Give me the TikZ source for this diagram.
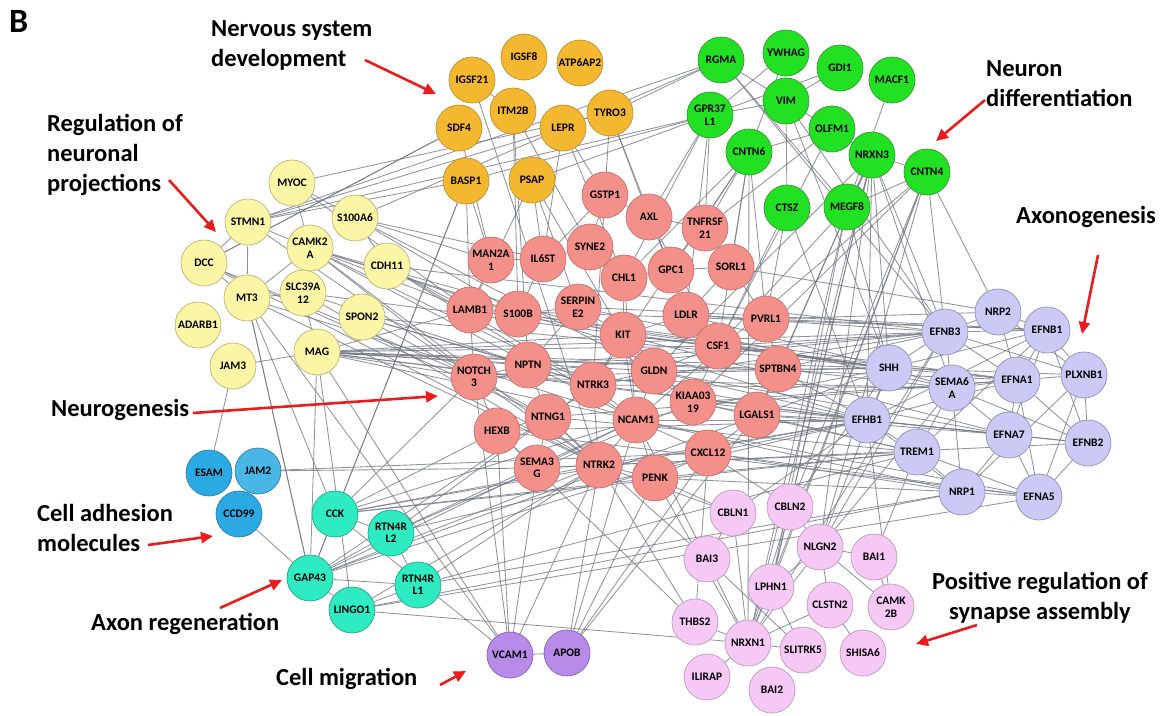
\documentclass[tikz,border=0pt]{standalone}
\usepackage{fontspec}
\setmainfont{Carlito}
\usetikzlibrary{arrows.meta,backgrounds}
\definecolor{ornfill}{HTML}{F4B830}\definecolor{ornline}{HTML}{BF902A}
\definecolor{grnfill}{HTML}{22E022}\definecolor{grnline}{HTML}{339933}
\definecolor{yelfill}{HTML}{FBF5A6}\definecolor{yelline}{HTML}{BDB577}
\definecolor{salfill}{HTML}{F3908A}\definecolor{salline}{HTML}{C27370}
\definecolor{lavfill}{HTML}{CACAF5}\definecolor{lavline}{HTML}{8F8FBD}
\definecolor{blufill}{HTML}{2AA9E2}\definecolor{bluline}{HTML}{2780B0}
\definecolor{tealfill}{HTML}{2EEBC2}\definecolor{tealline}{HTML}{28A488}
\definecolor{viofill}{HTML}{B98BE8}\definecolor{violine}{HTML}{855EB2}
\definecolor{pnkfill}{HTML}{F6C8F6}\definecolor{pnkline}{HTML}{BE98BE}
\definecolor{edgegrey}{HTML}{737882}
\definecolor{arrred}{HTML}{EC1C1C}
\tikzset{
  gene/.style={circle,minimum size=46pt,inner sep=0pt,line width=0.7pt,align=center,
    text=black,font=\fontsize{11.5}{12.5}\selectfont\bfseries},
  orn/.style={gene,fill=ornfill,draw=ornline},
  grn/.style={gene,fill=grnfill,draw=grnline},
  yel/.style={gene,fill=yelfill,draw=yelline},
  sal/.style={gene,fill=salfill,draw=salline},
  lav/.style={gene,fill=lavfill,draw=lavline},
  blu/.style={gene,fill=blufill,draw=bluline},
  teal/.style={gene,fill=tealfill,draw=tealline},
  vio/.style={gene,fill=viofill,draw=violine},
  pnk/.style={gene,fill=pnkfill,draw=pnkline},
  edge/.style={draw=edgegrey,line width=0.85pt,opacity=0.8},
  lbl/.style={anchor=west,align=left,inner sep=0pt,font=\fontsize{24.5}{30}\selectfont\bfseries},
  redarrow/.style={draw=arrred,line width=2.6pt,-{Triangle[length=12pt,width=11pt]}}
}
\begin{document}
\begin{tikzpicture}[x=1pt,y=-1pt,line join=round]
\useasboundingbox (0,0) rectangle (1166,715);
% nervous system development
\node[orn] (IGSF21) at (472,80) {IGSF21};
\node[orn] (IGSF8) at (524,57) {IGSF8};
\node[orn] (ATP6AP2) at (580,63) {ATP6AP2};
\node[orn] (ITM2B) at (513,111) {ITM2B};
\node[orn] (SDF4) at (459,128) {SDF4};
\node[orn] (LEPR) at (563,128) {LEPR};
\node[orn] (TYRO3) at (610,113) {TYRO3};
\node[orn] (BASP1) at (466,181) {BASP1};
\node[orn] (PSAP) at (532,180) {PSAP};
% neuron differentiation
\node[grn] (RGMA) at (721,60) {RGMA};
\node[grn] (YWHAG) at (786,53) {YWHAG};
\node[grn] (GDI1) at (840,68) {GDI1};
\node[grn] (MACF1) at (892,80) {MACF1};
\node[grn] (GPR37L1) at (710,115) {GPR37\\L1};
\node[grn] (VIM) at (786,101) {VIM};
\node[grn] (OLFM1) at (832,129) {OLFM1};
\node[grn] (CNTN6) at (749,152) {CNTN6};
\node[grn] (NRXN3) at (872,155) {NRXN3};
\node[grn] (CNTN4) at (927,172) {CNTN4};
\node[grn] (CTSZ) at (787,208) {CTSZ};
\node[grn] (MEGF8) at (847,207) {MEGF8};
% neuronal projections
\node[yel] (MYOC) at (292,183) {MYOC};
\node[yel] (S100A6) at (355,218) {S100A6};
\node[yel] (STMN1) at (248,222) {STMN1};
\node[yel] (CAMK2A) at (310,248) {CAMK2\\A};
\node[yel] (DCC) at (204,263) {DCC};
\node[yel] (CDH11) at (387,266) {CDH11};
\node[yel] (MT3) at (247,298) {MT3};
\node[yel] (SLC39A12) at (303,293) {SLC39A\\12};
\node[yel] (ADARB1) at (198,325) {ADARB1};
\node[yel] (SPON2) at (362,317) {SPON2};
\node[yel] (JAM3) at (233,366) {JAM3};
\node[yel] (MAG) at (317,352) {MAG};
% neurogenesis
\node[sal] (GSTP1) at (605,195) {GSTP1};
\node[sal] (AXL) at (649,217) {AXL};
\node[sal] (TNFRSF21) at (705,228) {TNFRSF\\21};
\node[sal] (MAN2A1) at (491,260) {MAN2A\\1};
\node[sal] (IL6ST) at (543,259) {IL6ST};
\node[sal] (SYNE2) at (590,247) {SYNE2};
\node[sal] (CHL1) at (624,278) {CHL1};
\node[sal] (GPC1) at (671,270) {GPC1};
\node[sal] (SORL1) at (731,267) {SORL1};
\node[sal] (LAMB1) at (470,310) {LAMB1};
\node[sal] (S100B) at (518,314) {S100B};
\node[sal] (SERPINE2) at (578,307) {SERPIN\\E2};
\node[sal] (LDLR) at (686,315) {LDLR};
\node[sal] (PVRL1) at (766,319) {PVRL1};
\node[sal] (KIT) at (623,335) {KIT};
\node[sal] (CSF1) at (718,346) {CSF1};
\node[sal] (NOTCH3) at (474,377) {NOTCH\\3};
\node[sal] (NPTN) at (528,365) {NPTN};
\node[sal] (GLDN) at (654,371) {GLDN};
\node[sal] (SPTBN4) at (778,369) {SPTBN4};
\node[sal] (NTRK3) at (593,385) {NTRK3};
\node[sal] (KIAA0319) at (693,402) {KIAA03\\19};
\node[sal] (NTNG1) at (548,417) {NTNG1};
\node[sal] (NCAM1) at (636,420) {NCAM1};
\node[sal] (LGALS1) at (757,415) {LGALS1};
\node[sal] (HEXB) at (497,431) {HEXB};
\node[sal] (SEMA3G) at (537,468) {SEMA3\\G};
\node[sal] (NTRK2) at (599,465) {NTRK2};
\node[sal] (PENK) at (655,478) {PENK};
\node[sal] (CXCL12) at (708,453) {CXCL12};
% axonogenesis
\node[lav] (NRP2) at (998,312) {NRP2};
\node[lav] (EFNB3) at (945,332) {EFNB3};
\node[lav] (EFNB1) at (1047,330) {EFNB1};
\node[lav] (SHH) at (889,368) {SHH};
\node[lav] (SEMA6A) at (952,388) {SEMA6\\A};
\node[lav] (EFNA1) at (1017,380) {EFNA1};
\node[lav] (PLXNB1) at (1084,375) {PLXNB1};
\node[lav] (EFHB1) at (867,420) {EFHB1};
\node[lav] (EFNA7) at (1009,435) {EFNA7};
\node[lav] (EFNB2) at (1088,443) {EFNB2};
\node[lav] (TREM1) at (917,452) {TREM1};
\node[lav] (NRP1) at (962,492) {NRP1};
\node[lav] (EFNA5) at (1039,497) {EFNA5};
% cell adhesion, axon regeneration, migration
\node[blu] (ESAM) at (209,473) {ESAM};
\node[blu,fill=blufill!85!white] (JAM2) at (258,471) {JAM2};
\node[blu] (CCD99) at (239,514) {CCD99};
\node[teal] (CCK) at (335,514) {CCK};
\node[teal] (RTN4RL2) at (391,533) {RTN4R\\L2};
\node[teal] (GAP43) at (310,578) {GAP43};
\node[teal] (LINGO1) at (352,610) {LINGO1};
\node[teal] (RTN4RL1) at (418,585) {RTN4R\\L1};
\node[vio] (VCAM1) at (510,655) {VCAM1};
\node[vio] (APOB) at (567,653) {APOB};
% synapse assembly
\node[pnk] (CBLN1) at (733,513) {CBLN1};
\node[pnk] (CBLN2) at (790,507) {CBLN2};
\node[pnk] (NLGN2) at (820,547) {NLGN2};
\node[pnk] (BAI1) at (874,557) {BAI1};
\node[pnk] (BAI3) at (707,559) {BAI3};
\node[pnk] (LPHN1) at (771,587) {LPHN1};
\node[pnk] (CLSTN2) at (830,605) {CLSTN2};
\node[pnk] (CAMK2B) at (891,607) {CAMK\\2B};
\node[pnk] (THBS2) at (695,622) {THBS2};
\node[pnk] (NRXN1) at (748,643) {NRXN1};
\node[pnk] (SLITRK5) at (803,650) {SLITRK5};
\node[pnk] (SHISA6) at (863,653) {SHISA6};
\node[pnk] (ILIRAP) at (707,677) {ILIRAP};
\node[pnk] (BAI2) at (772,690) {BAI2};
% interactions
\begin{scope}[on background layer]
\foreach \a/\b in {
  ESAM/JAM3, CCD99/GAP43, JAM2/SEMA3G, JAM2/CXCL12,
  VCAM1/MAG, VCAM1/NOTCH3, VCAM1/HEXB, VCAM1/SEMA3G, VCAM1/NTRK2, VCAM1/APOB, VCAM1/CCK, VCAM1/MT3,
  APOB/PENK, APOB/NTRK2, APOB/CXCL12, APOB/LGALS1, APOB/NCAM1,
  MAG/NOTCH3, MAG/LAMB1, MAG/NPTN, MAG/NTRK3, MAG/KIT, MAG/GLDN, MAG/CSF1, MAG/SPTBN4, MAG/SHH,
  MAG/EFHB1, MAG/EFNB3, MAG/NCAM1, MAG/SLC39A12, MAG/JAM3, MAG/GAP43, MAG/LINGO1,
  MT3/DCC, MT3/STMN1, MT3/CAMK2A, MT3/SLC39A12, MT3/NCAM1, MT3/NTRK2, MT3/GAP43, MT3/CCK,
  STMN1/GPR37L1, STMN1/BASP1, STMN1/CAMK2A, STMN1/DCC, STMN1/LEPR, STMN1/NOTCH3,
  MYOC/S100A6, MYOC/CAMK2A, MYOC/LAMB1, MYOC/TYRO3,
  CAMK2A/LAMB1, CAMK2A/NOTCH3, CAMK2A/NTRK3, CAMK2A/S100B, CAMK2A/KIT, CAMK2A/NCAM1, CAMK2A/SLC39A12, CAMK2A/NTRK2,
  S100A6/MAN2A1, S100A6/S100B, S100A6/CDH11, S100A6/IL6ST, S100A6/RGMA, S100A6/GLDN,
  CDH11/NCAM1, CDH11/LAMB1, CDH11/NTRK3, SPON2/NTRK3, SPON2/NPTN, SPON2/NTNG1,
  DCC/NTNG1, DCC/NOTCH3, DCC/NTRK2, DCC/SDF4, SLC39A12/NPTN, SLC39A12/NTRK2,
  SDF4/MAN2A1, SDF4/DCC, BASP1/GAP43, BASP1/MAN2A1, BASP1/CCK, BASP1/GPR37L1, BASP1/LAMB1,
  IGSF21/NTRK2, IGSF21/ITM2B, ITM2B/NPTN, ITM2B/S100B, ITM2B/SYNE2,
  LEPR/GSTP1, LEPR/CHL1, LEPR/IL6ST, TYRO3/AXL, TYRO3/GPC1, TYRO3/NTRK3, TYRO3/RGMA,
  PSAP/LAMB1, PSAP/KIT, PSAP/GPR37L1, PSAP/SERPINE2, PSAP/IL6ST,
  RGMA/STMN1, RGMA/MEGF8, RGMA/NRXN3, RGMA/EFNB3,
  GPR37L1/TNFRSF21, GPR37L1/AXL, GPR37L1/VIM, GPR37L1/CHL1, GPR37L1/LDLR,
  YWHAG/GPR37L1, YWHAG/CNTN6, GDI1/VIM, GDI1/GPR37L1, MACF1/MEGF8, VIM/CTSZ, VIM/EFNB3, VIM/SHH,
  OLFM1/TNFRSF21, OLFM1/CNTN6, OLFM1/CSF1,
  CNTN6/TNFRSF21, CNTN6/GPC1, CNTN6/SORL1, CNTN6/CHL1, CNTN6/CSF1, CNTN6/NTRK3, CNTN6/PVRL1,
  NRXN3/CNTN4, NRXN3/MEGF8, NRXN3/SHH, NRXN3/EFNB3, NRXN3/SEMA6A, NRXN3/NLGN2, NRXN3/LPHN1,
  NRXN3/NRXN1, NRXN3/GLDN, NRXN3/LGALS1, NRXN3/SPTBN4, NRXN3/EFHB1,
  CNTN4/MEGF8, CNTN4/EFNB3, CNTN4/NRP2, CNTN4/CBLN2, CNTN4/NCAM1, CNTN4/KIAA0319, CNTN4/NLGN2, CNTN4/NRXN1,
  MEGF8/NRXN1, MEGF8/LPHN1, MEGF8/SHH, MEGF8/CSF1, CTSZ/PVRL1, CTSZ/CSF1, CTSZ/EFHB1,
  GSTP1/AXL, GSTP1/SYNE2, GSTP1/IL6ST, AXL/TNFRSF21, AXL/GPC1, AXL/CSF1,
  MAN2A1/LAMB1, MAN2A1/IL6ST, IL6ST/S100B, IL6ST/SYNE2, SYNE2/CHL1, CHL1/GPC1, CHL1/KIT, CHL1/NCAM1,
  GPC1/SORL1, GPC1/LDLR, SORL1/LDLR, SORL1/PVRL1, LAMB1/S100B, LAMB1/NOTCH3,
  S100B/SERPINE2, SERPINE2/KIT, SERPINE2/NPTN, KIT/LDLR, KIT/GLDN, KIT/NTRK3, KIT/CSF1, KIT/NCAM1,
  LDLR/CSF1, LDLR/PVRL1, PVRL1/SPTBN4, CSF1/GLDN, CSF1/KIAA0319,
  NOTCH3/NPTN, NPTN/NTRK3, NPTN/NTNG1, NTRK3/GLDN, NTRK3/NTNG1, NTRK3/NCAM1, NTRK3/NTRK2,
  GLDN/KIAA0319, GLDN/NCAM1, KIAA0319/LGALS1, SPTBN4/LGALS1, NTNG1/HEXB, NTNG1/SEMA3G, NTNG1/NTRK2,
  NCAM1/NTRK2, NCAM1/PENK, NCAM1/CXCL12, HEXB/SEMA3G, SEMA3G/NTRK2, NTRK2/PENK, PENK/CXCL12,
  CXCL12/LGALS1, NOTCH3/HEXB, NOTCH3/NTRK2,
  NTRK3/EFNB3, NTRK2/EFHB1, NCAM1/EFHB1, NCAM1/SHH, GLDN/SHH, CSF1/EFNB3, SPTBN4/EFNB3,
  SPTBN4/EFHB1, SPTBN4/SEMA6A, PVRL1/EFNB1, PVRL1/NRP2, LGALS1/EFHB1, LGALS1/TREM1, CXCL12/EFHB1,
  CXCL12/NRP1, KIAA0319/EFNA1, KIAA0319/EFNA7, LDLR/EFNB3, NOTCH3/EFNB3, NOTCH3/SHH, NPTN/EFHB1,
  KIT/SHH, SORL1/NRP2, SERPINE2/EFNB1, S100B/EFNA1, LAMB1/SHH, GLDN/EFNA7, NTNG1/TREM1, HEXB/EFNA5,
  PENK/NRP1, PENK/TREM1, SEMA3G/EFNB2, NTRK3/SEMA6A, NCAM1/EFNA5, LGALS1/EFNA7, CSF1/EFNA1,
  NPTN/EFNB3, LAMB1/EFNB1, S100B/SHH, NTRK3/EFHB1, GLDN/EFHB1, KIT/EFNA7, HEXB/EFHB1, NTNG1/EFNA1,
  SERPINE2/SEMA6A, LDLR/SHH, KIAA0319/TREM1, NOTCH3/SEMA6A, MAG/EFNA1, SPON2/SHH, CDH11/EFNB3,
  CAMK2A/EFHB1, SLC39A12/SHH, NTRK2/TREM1, NCAM1/NRP1, CXCL12/EFNA5,
  EFNB3/NRP2, EFNB3/EFNB1, EFNB3/SEMA6A, EFNB3/EFNA1, EFNB3/SHH, NRP2/EFNB1, NRP2/EFNA1, NRP2/PLXNB1,
  EFNB1/PLXNB1, EFNB1/EFNA1, EFNB1/EFNA7, EFNB1/EFNB2, SHH/EFHB1, SHH/SEMA6A, SEMA6A/EFNA1,
  SEMA6A/EFNA7, SEMA6A/NRP1, SEMA6A/TREM1, EFNA1/PLXNB1, EFNA1/EFNA7, EFNA1/EFNB2, EFNA1/EFNA5,
  PLXNB1/EFNB2, PLXNB1/EFNA5, PLXNB1/NRP1, EFHB1/TREM1, EFHB1/EFNA7, EFHB1/EFNA1, EFHB1/NRP1,
  EFNA7/EFNB2, EFNA7/EFNA5, EFNA7/NRP1, EFNB2/EFNA5, TREM1/NRP1, NRP1/EFNA5, TREM1/EFNA5,
  EFNB3/PLXNB1, SHH/EFNA1, EFHB1/EFNB2, TREM1/EFNB1, SHH/EFNB1, SHH/PLXNB1, EFHB1/EFNB1, SEMA6A/EFNB2,
  CBLN1/NRXN1, CBLN1/BAI3, CBLN2/NLGN2, CBLN2/NRXN1, NLGN2/NRXN1, NLGN2/LPHN1, NLGN2/CLSTN2,
  NLGN2/BAI1, NLGN2/CAMK2B, BAI3/NRXN1, BAI3/SLITRK5, LPHN1/NRXN1, LPHN1/SLITRK5, CLSTN2/NRXN1,
  CLSTN2/SHISA6, THBS2/NRXN1, NRXN1/SLITRK5, NRXN1/ILIRAP, BAI1/CAMK2B,
  CBLN1/NTRK2, CBLN1/PENK, NLGN2/EFNB3, NLGN2/SHH, LPHN1/NRXN3, BAI3/NCAM1, THBS2/NTRK2,
  THBS2/CXCL12, CAMK2B/EFHB1, NRXN1/PENK, BAI1/TREM1, CBLN2/CXCL12, NRXN1/EFNB3, CBLN1/EFHB1,
  LPHN1/CNTN4, NRXN1/CNTN6, BAI3/NTNG1, THBS2/HEXB, NLGN2/SEMA6A, CBLN2/SHH,
  CCK/GAP43, CCK/RTN4RL2, CCK/NTRK2, CCK/NCAM1, CCK/NOTCH3, CCK/HEXB, CCK/PENK, CCK/EFHB1,
  GAP43/LINGO1, GAP43/RTN4RL2, GAP43/RTN4RL1, GAP43/NTRK2, GAP43/NTNG1, GAP43/CXCL12, GAP43/SHH,
  RTN4RL2/RTN4RL1, RTN4RL2/NTRK3, RTN4RL2/EFHB1, RTN4RL2/NCAM1, RTN4RL1/LINGO1, RTN4RL1/NTRK2,
  RTN4RL1/TREM1, RTN4RL1/NRP1, LINGO1/NTRK2, LINGO1/NRP1, LINGO1/EFNA5, LINGO1/NRXN1,
  GAP43/NCAM1, CCK/TREM1, RTN4RL2/KIAA0319, GAP43/MT3}
  {\draw[edge] (\a) -- (\b);}
\end{scope}
% annotations
\node[lbl,font=\fontsize{34}{34}\selectfont\bfseries] (tB) at (9,21) {B};
\node[lbl] (tNSD) at (211,45) {Nervous system\\development};
\node[lbl] (tRNP) at (47,155) {Regulation of\\neuronal\\projections};
\node[lbl] (tND) at (986,84) {Neuron\\differentiation};
\node[lbl] (tAxo) at (1016,217) {Axonogenesis};
\node[lbl] (tNeu) at (51,410) {Neurogenesis};
\node[lbl] (tCAM) at (37,528) {Cell adhesion\\molecules};
\node[lbl] (tAR) at (91,624) {Axon regeneration};
\node[lbl] (tCM) at (276,679) {Cell migration};
\node[lbl,anchor=center,align=center] (tPRS) at (1040,598) {Positive regulation of\\synapse assembly};
\coordinate (aNSD1) at (365,60);   \coordinate (aNSD2) at (436,94);
\coordinate (aRNP1) at (169,180);  \coordinate (aRNP2) at (216,232);
\coordinate (aND1) at (985,100);   \coordinate (aND2) at (936,141);
\coordinate (aAxo1) at (1098,255); \coordinate (aAxo2) at (1082,334);
\coordinate (aNeu1) at (193,413);  \coordinate (aNeu2) at (438,396);
\coordinate (aCAM1) at (148,545);  \coordinate (aCAM2) at (213,536);
\coordinate (aAR1) at (220,608);   \coordinate (aAR2) at (282,580);
\coordinate (aCM1) at (440,685);   \coordinate (aCM2) at (466,671);
\coordinate (aPRS1) at (977,625);  \coordinate (aPRS2) at (916,644);
\foreach \s in {NSD,RNP,ND,Axo,Neu,CAM,AR,CM,PRS}
  {\draw[redarrow] (a\s1) -- (a\s2);}
\end{tikzpicture}
\end{document}
